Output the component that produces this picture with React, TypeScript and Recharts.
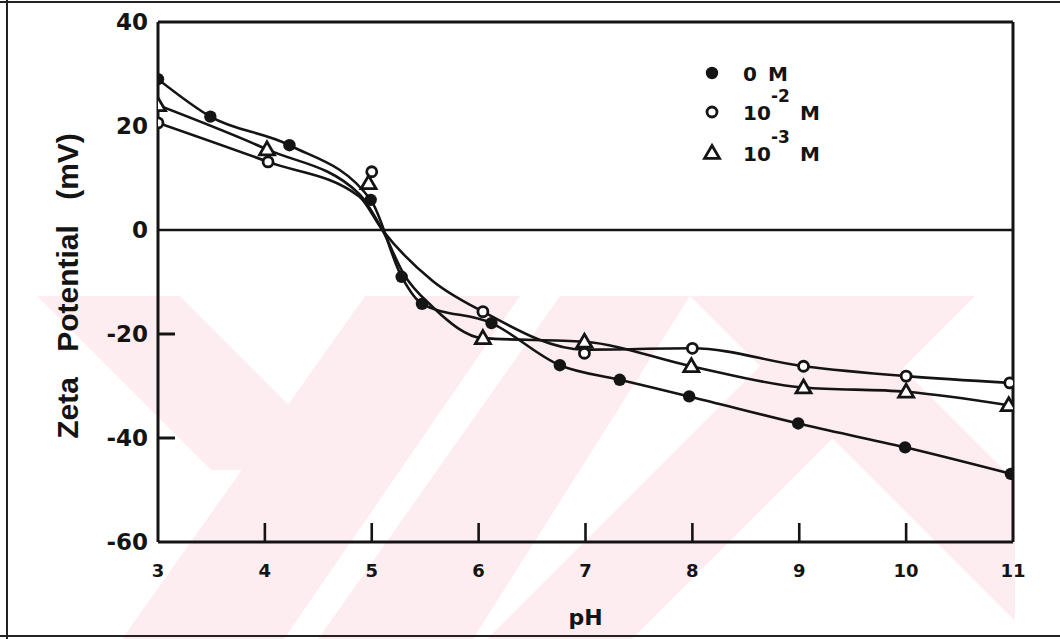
import React from 'react';
import { ComposedChart, Line, Scatter, XAxis, YAxis, ReferenceLine } from 'recharts';

// Axis ticks
const phTicks = [3, 4, 5, 6, 7, 8, 9, 10, 11];
const zetaTicks = [-60, -40, -20, 0, 20, 40];
// Y values that get a short inward tick mark
const zetaInnerTicks = [-40, -20];

// 0 M (filled circles)
const ph0M = [3, 3.49, 4.23, 4.99, 5.28, 5.47, 6.12, 6.76, 7.32, 7.97, 8.99, 9.99, 10.98];
const zeta0M = [29, 21.8, 16.3, 5.8, -9, -14.2, -17.9, -26, -28.8, -32, -37.2, -41.8, -46.9];

// 10^-2 M (open circles)
const ph1e2 = [3, 4.03, 5.0, 6.04, 6.99, 8.0, 9.04, 10.0, 10.97];
const zeta1e2 = [20.6, 13.1, 11.2, -15.7, -23.7, -22.75, -26.2, -28.1, -29.4];

// 10^-3 M (open triangles)
const ph1e3 = [3, 4.02, 4.97, 6.04, 6.99, 7.99, 9.04, 10.0, 10.96];
const zeta1e3 = [24, 15.5, 9.0, -20.8, -21.5, -26.2, -30.3, -31.1, -33.7];

// Hand-drawn smoothing curves for the two salt concentrations
const curvePh1e2 = [3, 4.03, 4.88, 5.1, 5.57, 6.04, 6.99, 8.0, 9.04, 10.0, 10.97];
const curveZeta1e2 = [20.6, 13.1, 6.5, 0, -9.8, -15.7, -23.0, -22.75, -26.2, -28.1, -29.4];
const curvePh1e3 = [3, 4.02, 4.88, 5.1, 5.3, 5.57, 6.04, 6.99, 7.99, 9.04, 10.0, 10.96];
const curveZeta1e3 = [24, 15.5, 7.0, 0, -8.5, -14.8, -20.8, -21.5, -26.2, -30.3, -31.1, -33.7];

// Legend entries: base, exponent, unit
const legendBase = ['0', '10', '10'];
const legendExp = ['', '-2', '-3'];
const legendUnit = ['M', 'M', 'M'];
const markerKinds = ['filled', 'circle', 'triangle'];

const INK = '#141414';
const FONT = '"DejaVu Sans", "Liberation Sans", sans-serif';

const pts = (xs: number[], ys: number[]) => xs.map((x, i) => ({ x, y: ys[i] }));

const data0M = pts(ph0M, zeta0M);
const data1e2 = pts(ph1e2, zeta1e2);
const data1e3 = pts(ph1e3, zeta1e3);
const curve1e2 = pts(curvePh1e2, curveZeta1e2);
const curve1e3 = pts(curvePh1e3, curveZeta1e3);

function Marker({ kind, cx, cy }: { kind: string; cx: number; cy: number }) {
  if (kind === 'filled') return <circle cx={cx} cy={cy} r={6.2} fill={INK} />;
  if (kind === 'circle')
    return <circle cx={cx} cy={cy} r={5} fill="#fff" stroke={INK} strokeWidth={2.8} />;
  const s = 7.5;
  return (
    <polygon
      points={`${cx},${cy - s} ${cx + s},${cy + s * 0.72} ${cx - s},${cy + s * 0.72}`}
      fill="#fff"
      stroke={INK}
      strokeWidth={2.8}
      strokeLinejoin="miter"
    />
  );
}

const shapeFor = (kind: string) => (p: any) => <Marker kind={kind} cx={p.cx} cy={p.cy} />;

function YTick(props: any) {
  const { x, y, payload } = props;
  const v = payload.value;
  const inner = zetaInnerTicks.includes(v);
  return (
    <g>
      {inner && <line x1={x} y1={y} x2={x + 17} y2={y} stroke={INK} strokeWidth={3} />}
      <text
        x={x - 10}
        y={y + 8}
        textAnchor="end"
        fontFamily={FONT}
        fontWeight="bold"
        fontSize={23}
        fill={INK}
      >
        {String(v)}
      </text>
    </g>
  );
}

function XTick(props: any) {
  const { x, y, payload } = props;
  const v = payload.value;
  const inner = v !== 3 && v !== 11;
  return (
    <g>
      {inner && <line x1={x} y1={y} x2={x} y2={y - 19} stroke={INK} strokeWidth={2.6} />}
      <text x={x} y={y + 35} textAnchor="middle" fontFamily={FONT} fontWeight="bold" fontSize={18} fill={INK}>
        {String(v)}
      </text>
    </g>
  );
}

function LegendBox() {
  const rows = [18, 57, 98];
  return (
    <svg width={140} height={120} style={{ position: 'absolute', left: 700, top: 55 }}>
      {rows.map((ry, i) => (
        <g key={i}>
          <Marker kind={markerKinds[i]} cx={12} cy={ry} />
          <text x={43} y={ry + 8} fontFamily={FONT} fontWeight="bold" fontSize={20} fill={INK}>
            {legendBase[i]}
          </text>
          {legendExp[i] && (
            <text x={71} y={ry - 10} fontFamily={FONT} fontWeight="bold" fontSize={17} fill={INK}>
              {legendExp[i]}
            </text>
          )}
          <text
            x={legendExp[i] ? 100 : 68}
            y={ry + 8}
            fontFamily={FONT}
            fontWeight="bold"
            fontSize={20}
            fill={INK}
          >
            {legendUnit[i]}
          </text>
        </g>
      ))}
    </svg>
  );
}

// Faint background stamp of the document
function Stamp() {
  const pink = '#fdedf0';
  return (
    <svg width={1060} height={639} style={{ position: 'absolute', left: 0, top: 0 }}>
      <defs>
        <clipPath id="stampClip">
          <rect x={37} y={296} width={978} height={343} />
        </clipPath>
      </defs>
      <g clipPath="url(#stampClip)" fill={pink}>
        <polygon points="37,296 180,296 354,470 211,470" />
        <polygon points="365,296 520,296 284,639 122,639" />
        <polygon points="560,296 690,296 473,639 318,639" />
        <polygon points="690,296 830,296 1173,639 1033,639" />
        <polygon points="830,296 975,296 632,639 487,639" />
      </g>
    </svg>
  );
}

export default function App() {
  return (
    <div
      style={{
        position: 'absolute',
        left: 0,
        top: 0,
        width: 1060,
        height: 639,
        background: '#fff',
        overflow: 'hidden',
      }}
    >
      <Stamp />
      {/* page frame */}
      <div style={{ position: 'absolute', left: 0, top: 1, width: 1060, height: 2, background: '#222' }} />
      <div style={{ position: 'absolute', left: 6, top: 0, width: 2, height: 639, background: '#222' }} />
      <div style={{ position: 'absolute', left: 0, top: 635, width: 1060, height: 2, background: '#222' }} />
      <div style={{ position: 'absolute', left: 0, top: 0 }}>
        <ComposedChart
          width={1060}
          height={639}
          margin={{ top: 22, right: 47, bottom: 57, left: 98 }}
        >
          <XAxis
            type="number"
            dataKey="x"
            domain={[3, 11]}
            ticks={phTicks}
            allowDataOverflow
            height={40}
            axisLine={{ stroke: INK, strokeWidth: 3 }}
            tickLine={false}
            tickSize={0}
            tickMargin={0}
            tick={<XTick />}
            label={{
              content: (p: any) => (
                <text
                  x={p.viewBox.x + p.viewBox.width / 2}
                  y={p.viewBox.y + 83}
                  textAnchor="middle"
                  fontFamily={FONT}
                  fontWeight="bold"
                  fontSize={22}
                  fill={INK}
                >
                  pH
                </text>
              ),
            }}
          />
          <YAxis
            type="number"
            dataKey="y"
            domain={[-60, 40]}
            ticks={zetaTicks}
            allowDataOverflow
            width={60}
            axisLine={{ stroke: INK, strokeWidth: 3 }}
            tickLine={false}
            tickSize={0}
            tickMargin={0}
            tick={<YTick />}
            label={{
              content: (p: any) => {
                const cx = p.viewBox.x - 31;
                const cy = p.viewBox.y + p.viewBox.height / 2 + 4;
                return (
                  <text
                    x={cx}
                    y={cy}
                    transform={`rotate(-90, ${cx}, ${cy})`}
                    textAnchor="middle"
                    dominantBaseline="central"
                    fontFamily='"Liberation Sans", Arial, sans-serif'
                    fontWeight="bold"
                    fontSize={30}
                    fill={INK}
                    style={{ wordSpacing: 17 }}
                  >
                    Zeta Potential (mV)
                  </text>
                );
              },
            }}
          />
          <ReferenceLine y={40} stroke={INK} strokeWidth={3} />
          <ReferenceLine x={11} stroke={INK} strokeWidth={3} />
          <ReferenceLine y={0} stroke={INK} strokeWidth={2.4} />
          <Line
            data={data0M}
            dataKey="y"
            type="monotone"
            stroke={INK}
            strokeWidth={2.6}
            dot={false}
            activeDot={false}
            isAnimationActive={false}
            legendType="none"
          />
          <Line
            data={curve1e2}
            dataKey="y"
            type="monotone"
            stroke={INK}
            strokeWidth={2.6}
            dot={false}
            activeDot={false}
            isAnimationActive={false}
            legendType="none"
          />
          <Line
            data={curve1e3}
            dataKey="y"
            type="monotone"
            stroke={INK}
            strokeWidth={2.6}
            dot={false}
            activeDot={false}
            isAnimationActive={false}
            legendType="none"
          />
          <Scatter name="0 M" data={data0M} dataKey="y" shape={shapeFor('filled')} isAnimationActive={false} />
          <Scatter name="10-2 M" data={data1e2} dataKey="y" shape={shapeFor('circle')} isAnimationActive={false} />
          <Scatter name="10-3 M" data={data1e3} dataKey="y" shape={shapeFor('triangle')} isAnimationActive={false} />
        </ComposedChart>
      </div>
      <LegendBox />
    </div>
  );
}
